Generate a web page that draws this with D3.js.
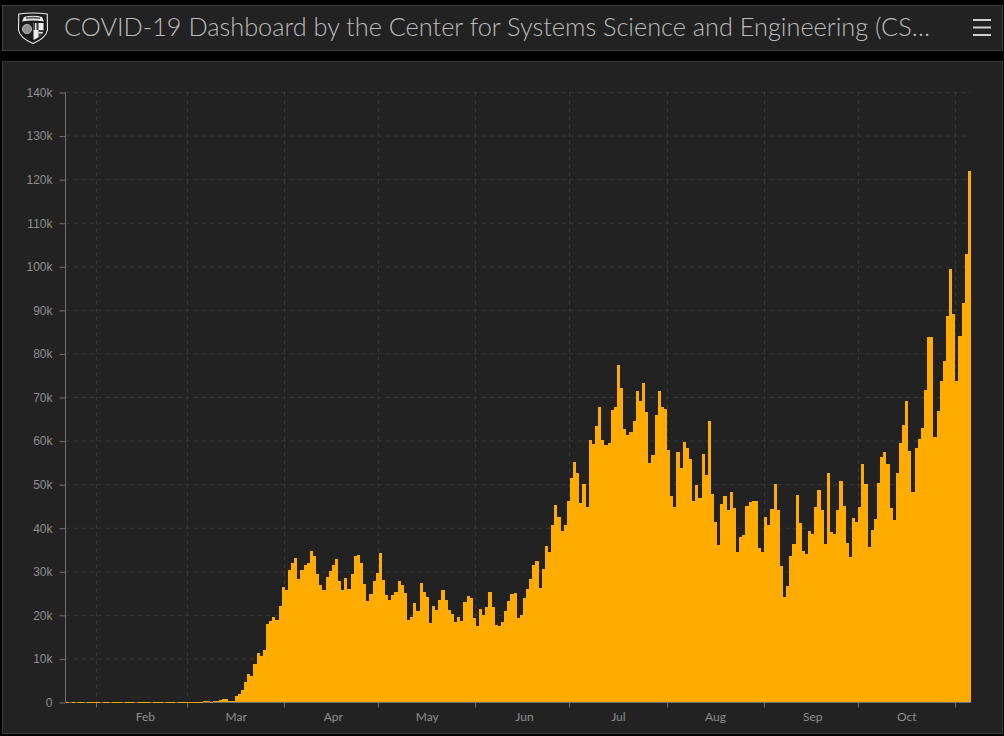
<!DOCTYPE html>
<html>
<head>
  <meta charset="utf-8">
  <title>COVID-19 Dashboard</title>
  <style>
    html, body { margin: 0; background: #000; overflow: hidden; }
    svg { display: block; font-family: Lato, "Open Sans", sans-serif; }
    .grid line { stroke: #383838; stroke-dasharray: 4 4; }
    .axis text { fill: #8f8f8f; font-size: 12px; }
    .axis line, .axis path { stroke: #707070; }
  </style>
</head>
<body>
  <svg width="1004" height="736"></svg>
  <script src="https://d3js.org/d3.v7.min.js"></script>
  <script>
    const titleText = "COVID-19 Dashboard by the Center for Systems Science and Engineering (CS…";

    const firstDay = "2020-01-22";
    const monthStarts = ["2020-02-01", "2020-03-01", "2020-04-01", "2020-05-01", "2020-06-01",
                         "2020-07-01", "2020-08-01", "2020-09-01", "2020-10-01", "2020-11-01"];
    const monthNames = ["Feb", "Mar", "Apr", "May", "Jun", "Jul", "Aug", "Sep", "Oct"];
    const monthLabelDates = ["2020-02-16", "2020-03-16", "2020-04-16", "2020-05-16", "2020-06-16",
                             "2020-07-16", "2020-08-16", "2020-09-16", "2020-10-16"];
    const yTicks = [0, 10, 20, 30, 40, 50, 60, 70, 80, 90, 100, 110, 120, 130, 140];

    // daily new cases in thousands, one per day from 22 Jan
    const janFeb = [
      0.01, 0, 0.01, 0, 0.01, 0.01, 0, 0.01, 0.01, 0.01,
      0.01, 0, 0.01, 0.01, 0, 0.01, 0.01, 0.01, 0, 0.01,
      0.01, 0.01, 0, 0.01, 0.01, 0.01, 0.01, 0, 0.01, 0.01,
      0.01, 0, 0.01, 0.01, 0.01, 0, 0.02, 0.02, 0.02
    ];
    const march = [
      0.02, 0.03, 0.05, 0.05, 0.1, 0.3, 0.3, 0.2, 0.25, 0.45, 0.5, 0.8, 0.85, 0.4, 0.4,
      1.5, 2, 2.9, 4.7, 6.6, 6.1, 8.9, 11.4, 10.7, 12.1, 18, 18.7, 19.6, 19, 22.2, 26.5
    ];
    const april = [
      25.9, 30.5, 32, 33.2, 28.4, 30.5, 31.6, 32, 34.8, 33.7, 29.5, 27, 25.9, 28.8, 30.2,
      31.6, 33, 27.9, 25.9, 28.6, 26.1, 29.5, 33.7, 33.9, 32, 27.2, 23.3, 24.9, 27.9, 29.8
    ];
    const may = [
      34.4, 28.2, 24.7, 23.6, 24.7, 25.4, 27.9, 27, 25.2, 19, 19.7, 22.9, 21, 27.5, 25.4, 24.3,
      18.3, 22.2, 21.3, 23.6, 25.9, 23.6, 21.3, 20.4, 18.5, 19.7, 18.7, 23.1, 24.5, 24, 19.4
    ];
    const june = [
      17.6, 21.5, 20.1, 22, 25.4, 22, 17.8, 17.6, 18.5, 21, 23.3, 24.9, 25.2, 19.4, 20.1,
      24, 26.1, 28.3, 31.5, 32.5, 26.3, 30.6, 35.9, 34.5, 40.7, 45.3, 42.6, 39.4, 40.7, 46.2
    ];
    const july = [
      51.5, 55.2, 52.7, 45.8, 50.2, 44.9, 60.3, 59.3, 63.5, 67.8, 60.3, 59.1, 59.6, 67.1, 67.8, 77.5,
      72.2, 62.8, 61.4, 62.1, 64.6, 71.5, 69.2, 73.3, 66.7, 55, 56.8, 66, 71.5, 67.8, 67.4
    ];
    const august = [
      58, 47.4, 44.9, 57.5, 53.8, 59.8, 58.4, 55.9, 46.2, 49.9, 46.9, 57, 52.2, 64.6, 47.9, 41.4,
      36.2, 45.6, 47.4, 44.2, 48.3, 44.6, 34.5, 38, 38.4, 45.1, 46, 46.2, 46.2, 35.5, 34.5
    ];
    const september = [
      42.6, 40.7, 44.4, 50.2, 44.2, 31.3, 24.2, 26.7, 33.6, 36.4, 47.6, 41.2, 34.8, 34.1, 39.4,
      38.7, 44.9, 48.8, 44.2, 36.4, 52.7, 39.1, 38.7, 44.2, 50.8, 45.1, 36.6, 33.4, 42.3, 41.4
    ];
    const october = [
      44.9, 54.7, 50.2, 35.7, 39.6, 42.1, 50.4, 56.4, 57.5, 54.7, 44.6, 41.9, 52.7, 59.6, 63.7, 69.2,
      57.7, 48.3, 58.4, 60.5, 63, 71.7, 83.9, 83.9, 60.9, 66.9, 73.8, 78.4, 88.7, 99.5, 89.2
    ];
    const november = [73.8, 84.1, 91.7, 102.9, 122];

    const dailyCases = [].concat(janFeb, march, april, may, june, july, august, september, october, november);

    const svg = d3.select("svg");
    const parse = d3.utcParse("%Y-%m-%d");
    const start = parse(firstDay);

    const x = d3.scaleUtc()
      .domain([start, d3.utcDay.offset(start, dailyCases.length)])
      .range([65.5, 971]);
    const y = d3.scaleLinear().domain([0, 140]).range([702.5, 92.5]);
    const snap = d => Math.floor(x(d)) + 0.5;

    // header and chart panels
    svg.append("rect").attr("x", 2.5).attr("y", 5.5).attr("width", 1000).attr("height", 45)
      .attr("fill", "#222").attr("stroke", "#3f3f3f");
    svg.append("rect").attr("x", 2.5).attr("y", 61.5).attr("width", 1000).attr("height", 672)
      .attr("fill", "#222").attr("stroke", "#3a3a3a");

    svg.append("text").attr("x", 64).attr("y", 36)
      .attr("fill", "#bcbcbc").attr("font-size", 25.3).attr("font-weight", 300)
      .text(titleText);

    // hamburger
    svg.append("g").selectAll("rect").data([0, 1, 2]).enter().append("rect")
      .attr("x", 973).attr("y", d => 19 + d * 7.5)
      .attr("width", 18).attr("height", 2).attr("fill", "#d0d0d0");

    // crest
    const crest = svg.append("g").attr("transform", "translate(18,13)");
    crest.append("path")
      .attr("d", "M0.8 1 Q15 -1 29.2 1 L29.5 17 Q28 25 15 30.5 Q2 25 0.5 17 Z")
      .attr("fill", "#1c1c1c").attr("stroke", "#ededed").attr("stroke-width", 1.1);
    crest.append("path").attr("d", "M4 8.5 L6 4 Q15 1.5 24 4 L26 8.5 Q15 6.5 4 8.5 Z").attr("fill", "#e4e4e4");
    crest.append("path").attr("d", "M8 4.5 Q15 3 22 4.5 L22 6 Q15 5 8 6 Z").attr("fill", "#555");
    crest.append("circle").attr("cx", 9).attr("cy", 16).attr("r", 4.6)
      .attr("fill", "#8f8f8f").attr("stroke", "#c8c8c8").attr("stroke-width", 0.8);
    crest.append("path").attr("d", "M15.5 10 H25.5 V17 Q24.5 23 15.5 27 Z").attr("fill", "#eee");
    crest.append("path").attr("d", "M15.5 10 H20.5 V17 H15.5 Z M20.5 17 H25.5 Q24.5 22 20.5 24.5 Z").attr("fill", "#3a3a3a");
    crest.append("path").attr("d", "M17 10 H18.5 V17 H17 Z M20.5 19 L25 19 L24.5 20.5 L20.5 20.5 Z").attr("fill", "#ddd");

    // grid
    const monthDates = monthStarts.map(parse);
    const grid = svg.append("g").attr("class", "grid");
    grid.selectAll(".h").data(yTicks.slice(1)).enter().append("line")
      .attr("x1", x.range()[0]).attr("x2", x.range()[1])
      .attr("y1", d => y(d)).attr("y2", d => y(d));
    grid.selectAll(".v").data(monthDates).enter().append("line")
      .attr("x1", snap).attr("x2", snap)
      .attr("y1", y(140)).attr("y2", y(0));

    // axes
    svg.append("g").attr("class", "axis")
      .attr("transform", "translate(65.5,0)")
      .call(d3.axisLeft(y).tickValues(yTicks).tickSize(6).tickPadding(7)
        .tickFormat(d => d === 0 ? "0" : d + "k"))
      .call(g => g.select(".domain").attr("d", "M0," + y(0) + "V" + y(140)));

    svg.append("g").attr("class", "axis")
      .attr("transform", "translate(0,702.5)")
      .call(d3.axisBottom(x).tickValues(monthDates).tickSize(5).tickFormat(""))
      .call(g => g.select(".domain").attr("d", "M65.5,0H971"))
      .call(g => g.selectAll(".tick").attr("transform", d => "translate(" + snap(d) + ",0)"));

    svg.append("g").attr("class", "axis").selectAll("text")
      .data(monthNames).enter().append("text")
      .attr("text-anchor", "middle").attr("y", 721)
      .attr("x", (d, i) => x(parse(monthLabelDates[i])) + 1.5)
      .text(d => d);

    // bars, on top of the baseline so the near-zero days show as an orange hairline
    svg.append("g").attr("shape-rendering", "crispEdges").selectAll("rect")
      .data(dailyCases).enter().append("rect")
      .attr("x", (d, i) => Math.round(x(d3.utcDay.offset(start, i))))
      .attr("width", (d, i) => Math.round(x(d3.utcDay.offset(start, i + 1))) - Math.round(x(d3.utcDay.offset(start, i))))
      .attr("y", d => Math.min(702, Math.round(y(d))))
      .attr("height", d => d === 0 ? 0 : Math.max(1, 702 - Math.round(y(d))))
      .attr("fill", "#ffab00");
  </script>
</body>
</html>
